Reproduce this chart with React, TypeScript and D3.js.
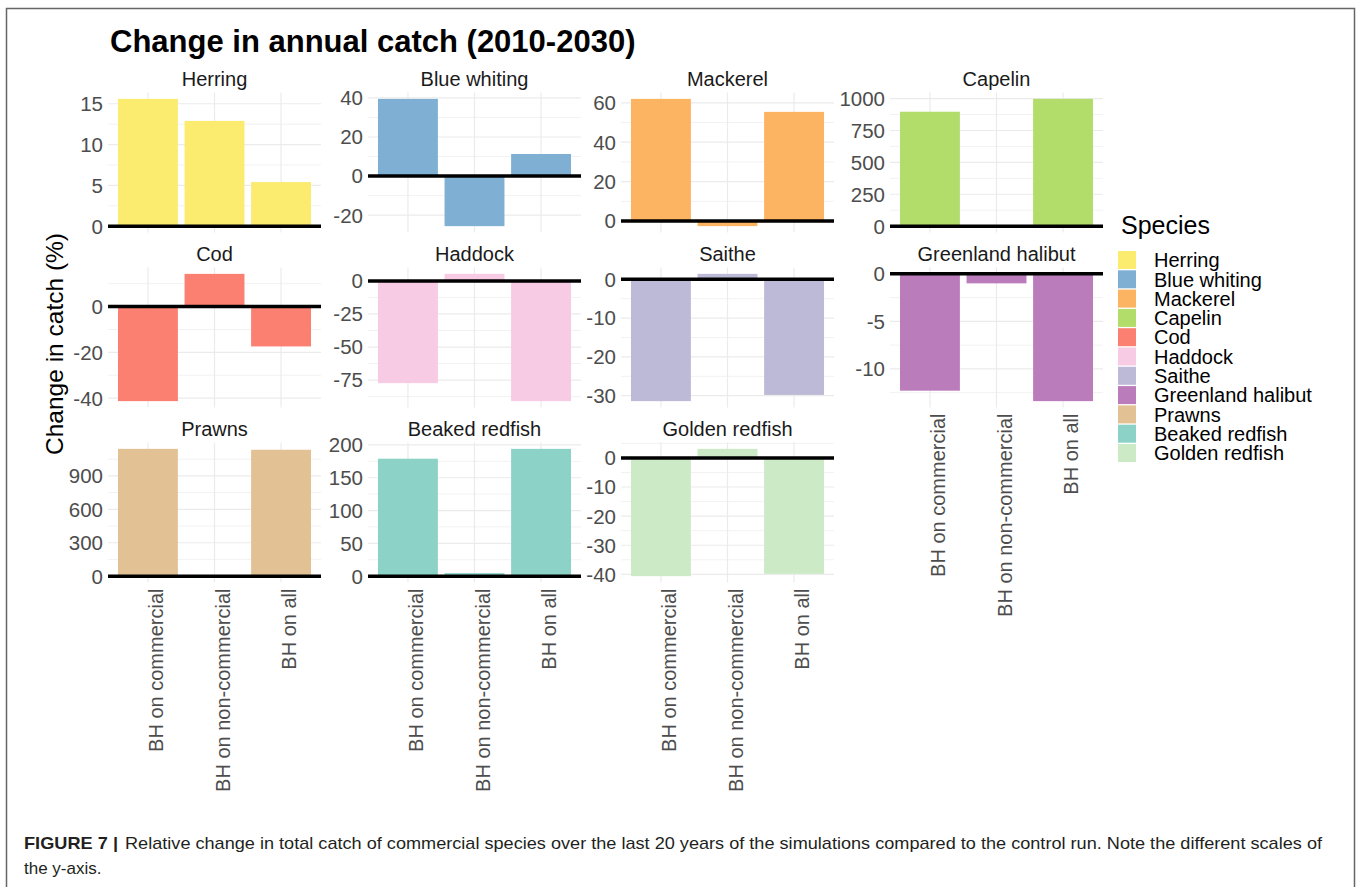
import React from "react";
import * as d3 from "d3";

const categories = ["BH on commercial", "BH on non-commercial", "BH on all"];
const species = [
  "Herring", "Blue whiting", "Mackerel", "Capelin", "Cod", "Haddock",
  "Saithe", "Greenland halibut", "Prawns", "Beaked redfish", "Golden redfish",
];
const colors = [
  "#FBEB6F", "#7FB0D3", "#FDB462", "#B3DD6A", "#FB8072", "#F8CBE4",
  "#BDBAD8", "#BB7CBC", "#E2C294", "#8DD2C6", "#CCEAC6",
];

const herring = [15.6, 12.9, 5.4];
const blueWhiting = [39.5, -25.6, 11.3];
const mackerel = [62, -2.6, 55.4];
const capelin = [897, 0, 998];
const cod = [-41.3, 14.3, -17.4];
const haddock = [-77.3, 5.3, -90.9];
const saithe = [-31.4, 1.4, -29.8];
const greenlandHalibut = [-12.3, -1.0, -13.4];
const prawns = [1143, 0, 1135];
const beakedRedfish = [179, 4.6, 194];
const goldenRedfish = [-40.6, 3.1, -39.8];

const herringTicks = [0, 5, 10, 15];
const blueWhitingTicks = [-20, 0, 20, 40];
const mackerelTicks = [0, 20, 40, 60];
const capelinTicks = [0, 250, 500, 750, 1000];
const codTicks = [-40, -20, 0];
const haddockTicks = [-75, -50, -25, 0];
const saitheTicks = [-30, -20, -10, 0];
const greenlandTicks = [-10, -5, 0];
const prawnsTicks = [0, 300, 600, 900];
const beakedTicks = [0, 50, 100, 150, 200];
const goldenTicks = [-40, -30, -20, -10, 0];

const seriesValues = [
  herring, blueWhiting, mackerel, capelin, cod, haddock,
  saithe, greenlandHalibut, prawns, beakedRedfish, goldenRedfish,
];
const seriesTicks = [
  herringTicks, blueWhitingTicks, mackerelTicks, capelinTicks, codTicks, haddockTicks,
  saitheTicks, greenlandTicks, prawnsTicks, beakedTicks, goldenTicks,
];

// layout
const W = 1358;
const H = 887;
const colLeft = [108, 368, 621, 890];
const rowTop = [92.5, 267.5, 442.5];
const panelW = 213;
const panelH = 140;
const FONT = "'Liberation Sans', Arial, Helvetica, sans-serif";

function Panel({ idx }: { idx: number }) {
  const row = Math.floor(idx / 4);
  const col = idx % 4;
  const x0 = colLeft[col];
  const y0 = rowTop[row];
  const vals = seriesValues[idx];
  const ticks = seriesTicks[idx];
  const lo = Math.min(0, d3.min(vals) as number);
  const hi = Math.max(0, d3.max(vals) as number);
  const pad = (hi - lo) * 0.05;
  const y = d3.scaleLinear().domain([lo - pad, hi + pad]).range([y0 + panelH, y0]);
  const x = d3.scalePoint<string>().domain(categories).range([x0, x0 + panelW]).padding(0.6);
  const bw = x.step() * 0.9;
  const step = ticks[1] - ticks[0];
  const ext = [ticks[0] - step, ...ticks, ticks[ticks.length - 1] + step];
  const minors: number[] = [];
  for (let i = 0; i < ext.length - 1; i++) {
    const m = (ext[i] + ext[i + 1]) / 2;
    if (m >= lo - pad && m <= hi + pad) minors.push(m);
  }
  const showX = idx + 4 >= species.length;
  return (
    <g>
      <text x={x0 + panelW / 2} y={y0 - 7} textAnchor="middle" fontSize={20} fill="#1A1A1A" fontFamily={FONT}>
        {species[idx]}
      </text>
      {minors.map((m, i) => (
        <line key={"mi" + i} x1={x0} x2={x0 + panelW} y1={y(m)} y2={y(m)} stroke="#F2F2F2" strokeWidth={1} />
      ))}
      {ticks.map((t, i) => (
        <line key={"ma" + i} x1={x0} x2={x0 + panelW} y1={y(t)} y2={y(t)} stroke="#EBEBEB" strokeWidth={1.2} />
      ))}
      {categories.map((c) => (
        <line key={"v" + c} x1={x!(c)} x2={x!(c)} y1={y0} y2={y0 + panelH} stroke="#EBEBEB" strokeWidth={1.2} />
      ))}
      {vals.map((v, i) => (
        <rect
          key={"b" + i}
          x={(x(categories[i]) as number) - bw / 2}
          width={bw}
          y={Math.min(y(v), y(0))}
          height={Math.abs(y(v) - y(0))}
          fill={colors[idx]}
        />
      ))}
      <line x1={x0} x2={x0 + panelW} y1={y(0)} y2={y(0)} stroke="#000" strokeWidth={3.5} />
      {ticks.map((t, i) => (
        <text key={"t" + i} x={x0 - 5} y={y(t)} dy="0.36em" textAnchor="end" fontSize={20.5} fill="#4D4D4D" fontFamily={FONT}>
          {t}
        </text>
      ))}
      {showX &&
        categories.map((c) => (
          <text
            key={"xl" + c}
            transform={`translate(${x(c)},${y0 + panelH + 6}) rotate(-90)`}
            y={15}
            textAnchor="end"
            fontSize={20}
            fill="#4D4D4D"
            fontFamily={FONT}
          >
            {c}
          </text>
        ))}
    </g>
  );
}

export default function App() {
  const legendTop = 251;
  const legendStep = 19.3;
  return (
    <svg width={W} height={H} style={{ position: "absolute", left: 0, top: 0, background: "#fff" }} fontFamily={FONT}>
      <rect x={0} y={0} width={W} height={H} fill="#fff" />
      <path d={`M6.5,${H} V8.5 H1354.5 V${H}`} fill="none" stroke="#666" strokeWidth={1.5} />
      <text x={110} y={52} fontSize={31} fontWeight="bold" fill="#000">
        Change in annual catch (2010-2030)
      </text>
      <text transform="translate(63,344) rotate(-90)" textAnchor="middle" fontSize={24.5} fill="#000">
        Change in catch (%)
      </text>
      {species.map((s, i) => (
        <Panel key={s} idx={i} />
      ))}
      <text x={1121} y={234} fontSize={25} fill="#000">
        Species
      </text>
      {species.map((s, i) => (
        <g key={"lg" + s}>
          <rect x={1118} y={legendTop + i * legendStep} width={18} height={18} fill={colors[i]} />
          <text x={1154} y={legendTop + i * legendStep + 9} dy="0.36em" fontSize={20} fill="#000">
            {s}
          </text>
        </g>
      ))}
      <text x={24} y={849} fontSize={17} fontWeight="bold" fill="#231F20" textLength={94} lengthAdjust="spacingAndGlyphs">
        FIGURE 7 |
      </text>
      <text x={125} y={849} fontSize={17} fill="#231F20" textLength={1197} lengthAdjust="spacingAndGlyphs">
        Relative change in total catch of commercial species over the last 20 years of the simulations compared to the control run. Note the different scales of
      </text>
      <text x={24} y={874} fontSize={17} fill="#231F20">
        the y-axis.
      </text>
    </svg>
  );
}
